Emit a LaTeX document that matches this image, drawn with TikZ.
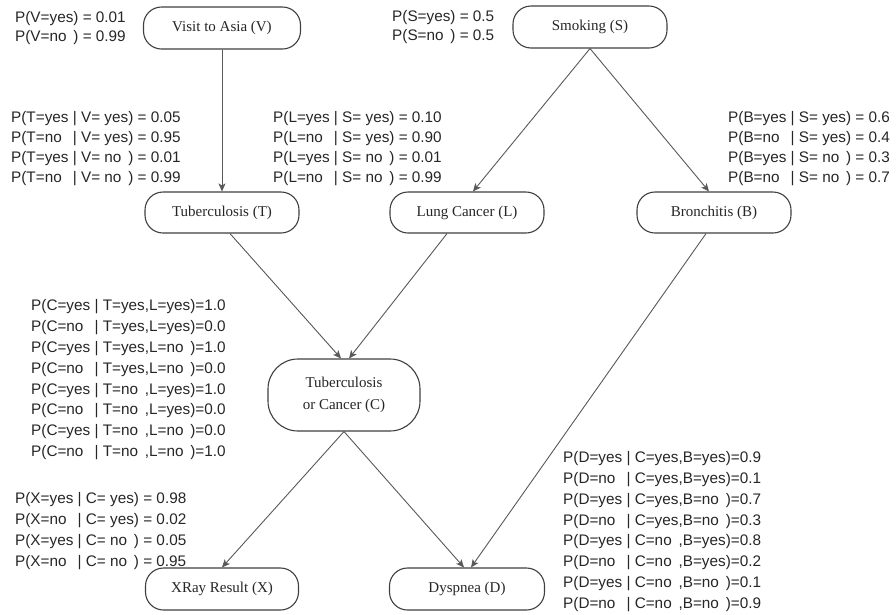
\documentclass[tikz,border=0pt]{standalone}
\usepackage{fontspec}
\setmainfont{Liberation Serif}
\newfontfamily\cptfont{Liberation Sans}
\usetikzlibrary{arrows.meta}
\newcommand\NO{\rlap{no}\phantom{yes}}
\begin{document}
\begin{tikzpicture}[x=1pt,y=-1pt,
  bnode/.style={draw=black!75,line width=1.1pt,rounded corners=18pt,minimum width=154pt,minimum height=41pt,inner sep=0pt,font=\fontsize{15}{22}\selectfont,text=black!85},
  edge/.style={draw=black!65,line width=0.9pt,-{Stealth[length=8pt,width=7pt,inset=2pt]}},
  cpt/.style={anchor=base west,inner sep=0pt,font=\cptfont\fontsize{15.3}{18}\selectfont,text=black!85}]
\useasboundingbox[fill=white] (0,0) rectangle (896,614);

% nodes
\node[bnode,minimum width=157pt,minimum height=42pt] (V) at (222,28) {Visit to Asia (V)};
\node[bnode,minimum height=42pt] (S) at (590,27) {Smoking (S)};
\node[bnode] (T) at (222,212.5) {Tuberculosis (T)};
\node[bnode] (L) at (467,212.5) {Lung Cancer (L)};
\node[bnode] (B) at (714,212.5) {Bronchitis (B)};
\node[bnode,minimum width=152pt,minimum height=72pt,rounded corners=30pt,align=center] (C) at (344,395) {Tuberculosis\\or Cancer (C)};
\node[bnode,minimum width=153pt,minimum height=42pt] (X) at (222,589) {XRay Result (X)};
\node[bnode,minimum width=155pt,minimum height=42pt] (D) at (467,589) {Dyspnea (D)};

% edges
\draw[edge] (V.south) -- (T.north);
\draw[edge] (S.south) -- ([xshift=6pt]L.north);
\draw[edge] (S.south) -- ([xshift=-5pt]B.north);
\draw[edge] ([xshift=8pt]T.south) -- ([xshift=-3pt]C.north);
\draw[edge] ([xshift=-20pt]L.south) -- ([xshift=5pt]C.north);
\draw[edge] ([xshift=-8pt]B.south) -- ([xshift=4pt]D.north);
\draw[edge] (C.south) -- (X.north);
\draw[edge] (C.south) -- ([xshift=-3pt]D.north);

% probability tables
\foreach \t [count=\i] in {{P(V=yes) = 0.01},{P(V=\NO) = 0.99}}
  \node[cpt] (pV\i) at (15,{22+19*(\i-1)}) {\t};
\foreach \t [count=\i] in {{P(S=yes) = 0.5},{P(S=\NO) = 0.5}}
  \node[cpt] (pS\i) at (392,{21+19*(\i-1)}) {\t};
\foreach \t [count=\i] in {{P(T=yes | V= yes) = 0.05},{P(T=\NO{} | V= yes) = 0.95},{P(T=yes | V= \NO) = 0.01},{P(T=\NO{} | V= \NO) = 0.99}}
  \node[cpt] (pT\i) at (11,{122.7+20*(\i-1)}) {\t};
\foreach \t [count=\i] in {{P(L=yes | S= yes) = 0.10},{P(L=\NO{} | S= yes) = 0.90},{P(L=yes | S= \NO) = 0.01},{P(L=\NO{} | S= \NO) = 0.99}}
  \node[cpt] (pL\i) at (273,{122.7+20*(\i-1)}) {\t};
\foreach \t [count=\i] in {{P(B=yes | S= yes) = 0.6},{P(B=\NO{} | S= yes) = 0.4},{P(B=yes | S= \NO) = 0.3},{P(B=\NO{} | S= \NO) = 0.7}}
  \node[cpt] (pB\i) at (728,{122.2+20*(\i-1)}) {\t};
\foreach \t [count=\i] in {{P(C=yes | T=yes,L=yes)=1.0},{P(C=\NO{} | T=yes,L=yes)=0.0},{P(C=yes | T=yes,L=\NO)=1.0},{P(C=\NO{} | T=yes,L=\NO)=0.0},{P(C=yes | T=\NO,L=yes)=1.0},{P(C=\NO{} | T=\NO,L=yes)=0.0},{P(C=yes | T=\NO,L=\NO)=0.0},{P(C=\NO{} | T=\NO,L=\NO)=1.0}}
  \node[cpt] (pC\i) at (31,{310.7+20.85*(\i-1)}) {\t};
\foreach \t [count=\i] in {{P(D=yes | C=yes,B=yes)=0.9},{P(D=\NO{} | C=yes,B=yes)=0.1},{P(D=yes | C=yes,B=\NO)=0.7},{P(D=\NO{} | C=yes,B=\NO)=0.3},{P(D=yes | C=\NO,B=yes)=0.8},{P(D=\NO{} | C=\NO,B=yes)=0.2},{P(D=yes | C=\NO,B=\NO)=0.1},{P(D=\NO{} | C=\NO,B=\NO)=0.9}}
  \node[cpt] (pD\i) at (563,{462.7+20.8*(\i-1)}) {\t};
\foreach \t [count=\i] in {{P(X=yes | C= yes) = 0.98},{P(X=\NO{} | C= yes) = 0.02},{P(X=yes | C= \NO) = 0.05},{P(X=\NO{} | C= \NO) = 0.95}}
  \node[cpt] (pX\i) at (15,{503+21*(\i-1)}) {\t};
\end{tikzpicture}
\end{document}
